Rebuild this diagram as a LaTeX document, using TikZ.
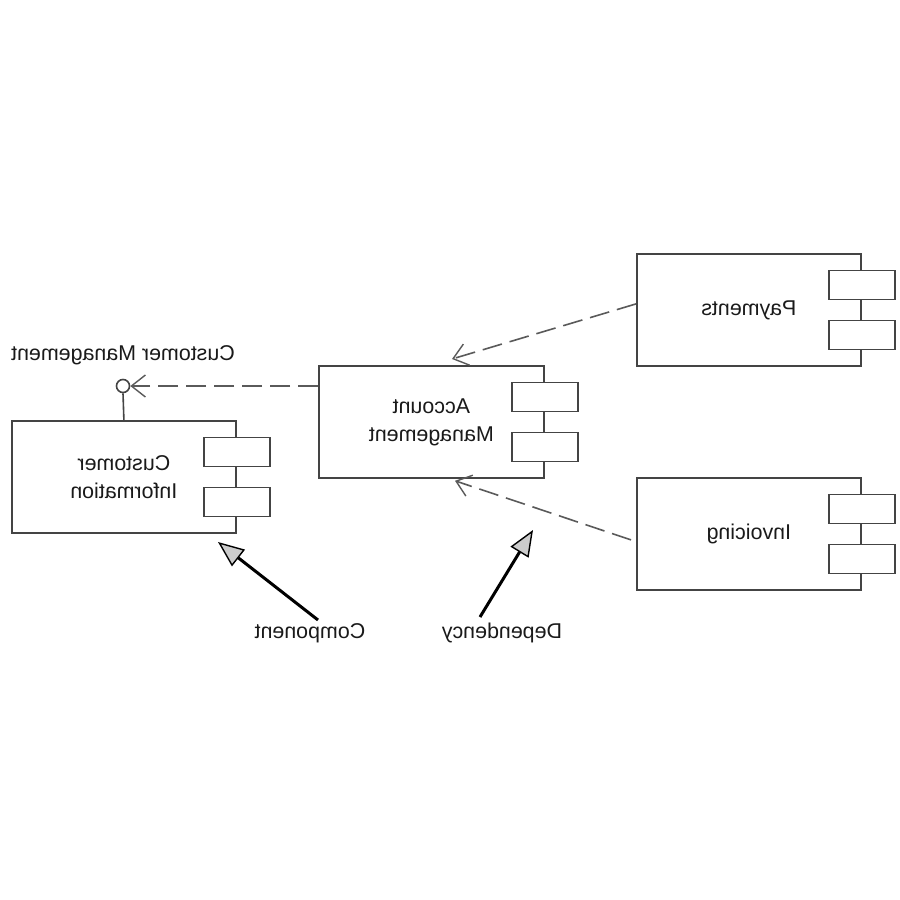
\documentclass[tikz,border=0pt]{standalone}
\usepackage{fontspec}
\setmainfont{Liberation Sans}
\usetikzlibrary{arrows.meta,calc}
\definecolor{ln}{HTML}{444444}
\definecolor{dl}{HTML}{5A5A5A}
\definecolor{tx}{HTML}{1A1A1A}
\begin{document}
\begin{tikzpicture}[x=0.5pt,y=-0.5pt,
  compbox/.style={draw=ln,line width=0.9pt,fill=white,rectangle,inner sep=0pt,
    minimum width=112pt,minimum height=56pt,anchor=north west},
  tab/.style={draw=ln,line width=0.9pt,fill=white,rectangle,inner sep=0pt,
    minimum width=33pt,minimum height=14.5pt},
  lbl/.style={xscale=-1,text=tx,font=\fontsize{10.7}{14}\selectfont,align=center,inner sep=0pt},
  depline/.style={draw=dl,line width=0.8pt,dash pattern=on 10pt off 4pt,
    -{Straight Barb[length=7pt,width=11pt,line width=0.7pt]}},
  pointer/.style={draw=black,line width=1.5pt,
    -{Triangle[length=13pt,width=10.5pt,fill=black!20,line width=0.7pt]}}]
\useasboundingbox (0,0) rectangle (900,900);
\fill[white] (0,0) rectangle (900,900);

% component boxes
\node[compbox] (ci) at (11,420) {};
\node[compbox,minimum width=112.5pt] (am) at (318,365) {};
\node[compbox] (pay) at (636,253) {};
\node[compbox] (inv) at (636,477) {};

% tabs
\foreach \b in {ci,am,pay,inv}{
  \node[tab] (\b t1) at ($(\b.east)+(0,-25)$) {};
  \node[tab] (\b t2) at ($(\b.east)+(0,25)$) {};
}

% box texts
\node[lbl] (citext) at (ci.center) {Customer\\Information};
\node[lbl] (amtext) at (am.center) {Account\\Management};
\node[lbl] (paytext) at (pay.center) {Payments};
\node[lbl] (invtext) at (inv.center) {Invoicing};

% interface
\node[draw=ln,line width=0.8pt,fill=white,circle,inner sep=0pt,minimum size=6.5pt] (iface) at (123,386) {};
\draw[ln,line width=0.8pt] (iface.south) -- (ci.north);
\node[lbl] (ifacelbl) at (123,355) {Customer Management};

% dependencies
\coordinate (amL) at ($(am.north west)+(0,21)$);
\draw[depline] (amL) -- (iface.east);
\coordinate (payL) at ($(pay.west)+(0,-6)$);
\coordinate (amTop) at ($(am.north west)+(134,-6)$);
\draw[depline] (payL) -- (amTop);
\coordinate (invL) at ($(inv.west)+(-5,6)$);
\coordinate (amBot) at ($(am.south west)+(137,2)$);
\draw[depline] (invL) -- (amBot);

% annotations
\node[lbl] (comp) at (310,633) {Component};
\node[lbl] (depn) at (502,633) {Dependency};
\coordinate (compTail) at (318,620);
\coordinate (compTip) at (218,542);
\coordinate (depTail) at (480,617);
\coordinate (depTip) at (533,530);
\draw[pointer] (compTail) -- (compTip);
\draw[pointer] (depTail) -- (depTip);
\end{tikzpicture}
\end{document}
